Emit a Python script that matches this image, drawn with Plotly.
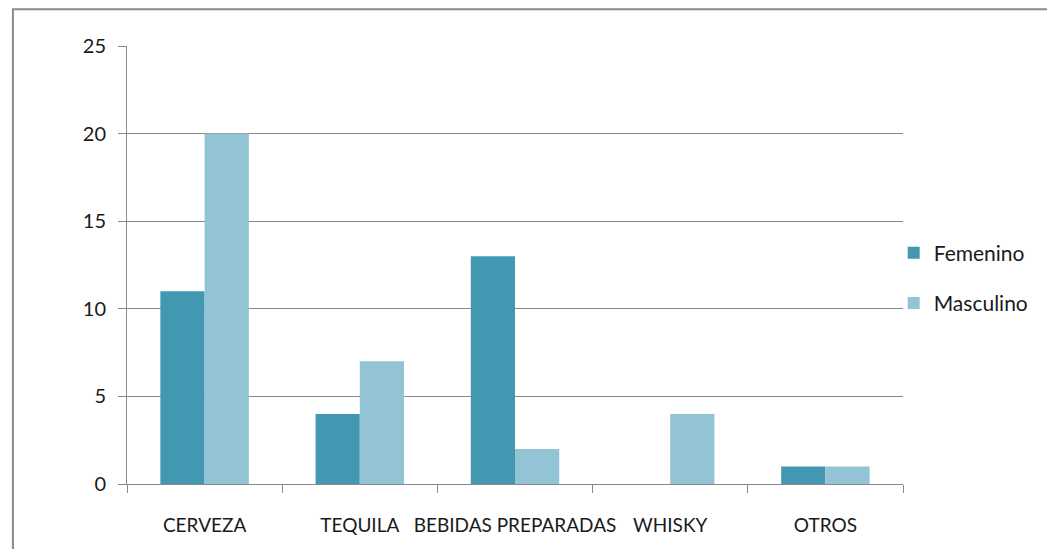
import plotly.graph_objects as go

categories = ["CERVEZA", "TEQUILA", "BEBIDAS PREPARADAS", "WHISKY", "OTROS"]
femenino = [11, 4, 13, 0, 1]
masculino = [20, 7, 2, 4, 1]

fig = go.Figure()
fig.add_trace(go.Bar(x=categories, y=femenino, name="Femenino",
                     marker=dict(color="#4298B0", line=dict(width=0)),
                     legendgroup="f"))
fig.add_trace(go.Bar(x=categories, y=masculino, name="Masculino",
                     marker=dict(color="#93C4D5", line=dict(width=0)),
                     legendgroup="m"))

# Outer chart border
fig.add_shape(type="rect", xref="paper", yref="paper",
              x0=-0.147, x1=1.187, y0=-0.25, y1=1.084,
              line=dict(color="#8a8a8a", width=2), layer="below")

fig.update_layout(
    width=1055, height=549,
    margin=dict(l=119, r=160, t=38, b=73, autoexpand=False),
    paper_bgcolor="white", plot_bgcolor="white",
    font=dict(family="Lato", size=19, color="#1a1a1a"),
    barmode="group", bargap=0.43, bargroupgap=0,
    legend=dict(x=0.988, y=0.47, xanchor="left", yanchor="middle",
                tracegroupgap=20, font=dict(size=21),
                bgcolor="rgba(0,0,0,0)", itemwidth=30),
    showlegend=True,
)

fig.update_xaxes(
    showline=True, linecolor="#8a8a8a", linewidth=1,
    ticks="outside", tickson="boundaries", ticklen=8, tickcolor="#8a8a8a",
    ticklabelstandoff=24, tickfont=dict(size=19), tickangle=0,
    showgrid=False, automargin=False,
)
fig.update_yaxes(
    range=[0, 25], dtick=5,
    showline=True, linecolor="#8a8a8a", linewidth=1,
    ticks="outside", ticklen=8, tickcolor="#8a8a8a",
    showgrid=True, gridcolor="#8a8a8a", gridwidth=1,
    zeroline=False, ticklabelstandoff=8, tickfont=dict(size=20),
    automargin=False,
)

fig.write_html("out.html")
